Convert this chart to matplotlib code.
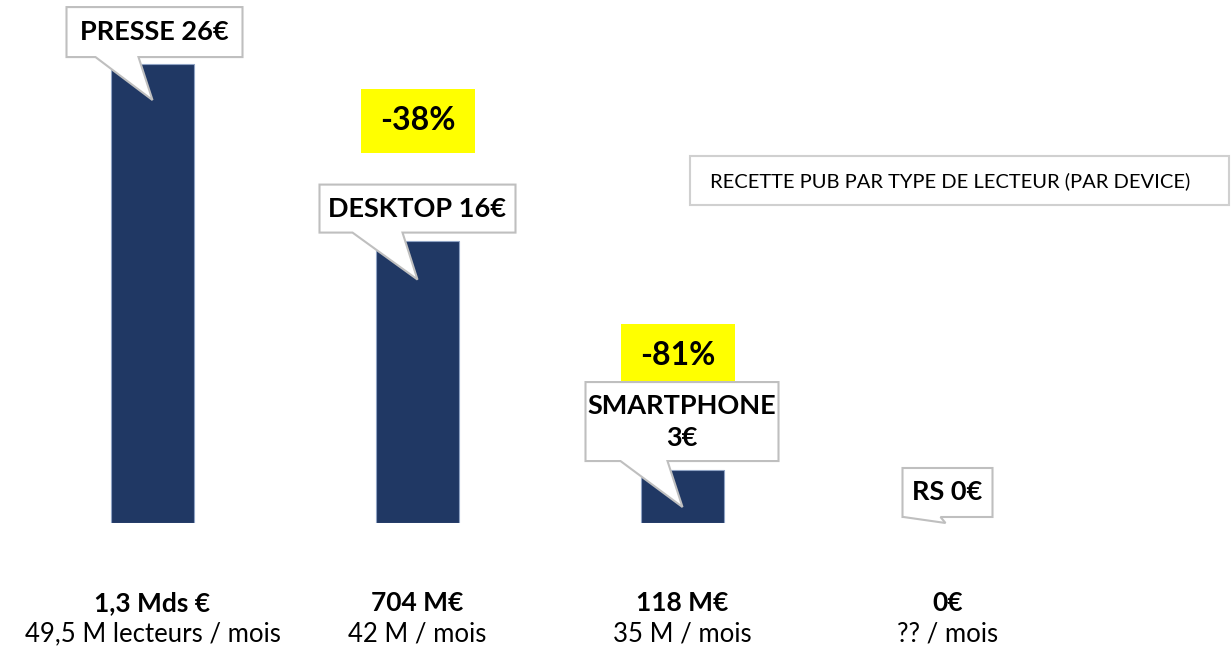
import numpy as np
import matplotlib
matplotlib.use("Agg")
import matplotlib.pyplot as plt
from matplotlib.patches import Polygon, Rectangle
from matplotlib.transforms import ScaledTranslation, IdentityTransform

plt.rcParams['font.family'] = ['Lato', 'DejaVu Sans']

# donnees
devices = ["PRESSE", "DESKTOP", "SMARTPHONE", "RS"]
revenue_per_reader = [26, 16, 3, 0]
bubble_labels = ["PRESSE 26€", "DESKTOP 16€", "SMARTPHONE\n3€", "RS 0€"]
totals = ["1,3 Mds €", "704 M€", "118 M€", "0€"]
audiences = ["49,5 M lecteurs / mois", "42 M / mois", "35 M / mois", "?? / mois"]
drops = ["-38%", "-81%"]      # desktop vs presse, smartphone vs desktop
drop_bars = [1, 2]
title = "RECETTE PUB PAR TYPE DE LECTEUR (PAR DEVICE)"

# bulles, en pixels par rapport au haut de la barre
# (gauche, droite, bas, haut, base queue g, base queue d, pointe dx, pointe dy)
bubbles = [
    (-86, 90, 7, 57, -57, -14, 0, -36),
    (-98, 98, 8, 56, -65, -15, 0, -39),
    (-97, 96, 9, 88, -62, -15, 0, -37),
    (-45, 45, 6, 55, -44, -7, -2, 0),
]
drop_boxes = [(-57, 57, 88, 152), (-62, 52, 83, 146)]

fig = plt.figure(figsize=(12.31, 6.51), dpi=100)
ax = fig.add_axes([20 / 1231, 128 / 651, 1060 / 1231, 523 / 651])
x = np.arange(len(devices))
lw = [0.8 if v > 0 else 0 for v in revenue_per_reader]
ax.bar(x, revenue_per_reader, width=0.313, color="#203864",
       edgecolor="#8FA3C4", linewidth=lw, zorder=2)
ax.set_xlim(-0.5, 3.5)
ax.set_ylim(0, 29.63)
ax.axis("off")


def at(i, v):
    return ScaledTranslation(i, v, ax.transData)


# cases jaunes
for k, i in enumerate(drop_bars):
    l, r, b, t = drop_boxes[k]
    tr = at(i, revenue_per_reader[i])
    ax.add_patch(Rectangle((l, b), r - l, t - b, transform=tr, facecolor="#FFFF00",
                           edgecolor="none", zorder=3, clip_on=False))
    ax.text((l + r) / 2, (b + t) / 2, drops[k], transform=tr, ha="center", va="center",
            fontsize=23, fontweight="bold", zorder=4)

# bulles
for i, lab in enumerate(bubble_labels):
    l, r, b, t, ql, qr, px, py = bubbles[i]
    tr = at(i, revenue_per_reader[i])
    pts = [(l, t), (r, t), (r, b), (qr, b), (px, py), (ql, b), (l, b)]
    ax.add_patch(Polygon(pts, closed=True, transform=tr, facecolor="white",
                         edgecolor="#BFBFBF", linewidth=1.5, zorder=5, clip_on=False))
    ax.text((l + r) / 2, (b + t) / 2, lab, transform=tr, ha="center", va="center",
            fontsize=19.5, fontweight="bold", linespacing=1.4, zorder=6)

# libelles sous les barres
for i in range(len(devices)):
    tr = at(i, 0)
    ax.text(0, -80, totals[i], transform=tr, ha="center", va="center",
            fontsize=19, fontweight="bold")
    ax.text(0, -111, audiences[i], transform=tr, ha="center", va="center", fontsize=18.5)

# encadre titre
fig.patches.append(Rectangle((690, 651 - 205), 539, 49, transform=IdentityTransform(),
                             facecolor="white", edgecolor="#D0D0D0", linewidth=1.5,
                             figure=fig))
fig.text(710, 651 - 181, title, transform=IdentityTransform(), ha="left", va="center",
         fontsize=14.5)

fig.savefig("out.png", dpi=100)
